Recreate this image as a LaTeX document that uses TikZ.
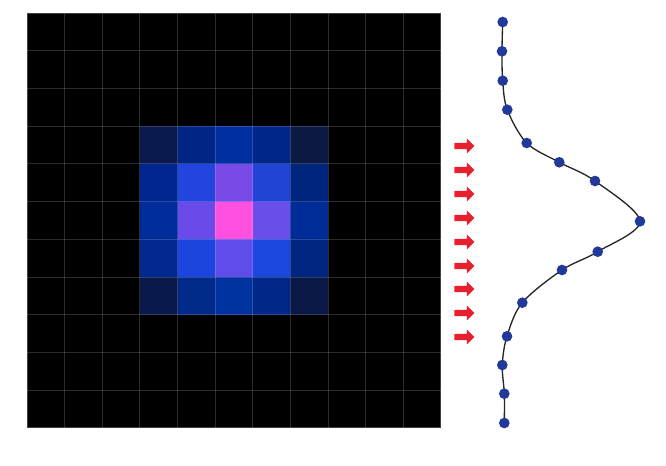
\documentclass[tikz,border=0pt]{standalone}
\usetikzlibrary{shapes.arrows}
\definecolor{dotblue}{HTML}{22399A}
\definecolor{arrowred}{HTML}{E8202E}
\tikzset{
  pix/.style={fill=#1,draw=none},
  sample/.style={circle,fill=dotblue,inner sep=0pt,minimum size=8pt},
  push/.style={single arrow,fill=arrowred,draw=none,minimum height=15pt,minimum width=10.5pt,
    single arrow head extend=3.2pt,single arrow head indent=0pt,inner sep=2.1pt,anchor=west}
}
\begin{document}
\begin{tikzpicture}[x=0.75pt,y=-0.75pt]
  \useasboundingbox (0,0) rectangle (666,466);
  % dark image
  \fill[black] (27,13) rectangle (441,428);
  % bright spot, rows 3..7, columns 3..7
  \foreach \r/\row in {3/{0A1A4E,002585,002F9F,00268A,0B1944},
                       4/{00268F,2344DD,7A4AE6,2244D6,00257F},
                       5/{002C9C,6B4AEA,FF50E0,6A4EE9,002C98},
                       6/{00288E,1B45DD,5F4CE9,1A48DC,00267F},
                       7/{091949,002A87,0032A0,002888,0A1845}}{
    \foreach \c [count=\k from 3] in \row {
      \definecolor{cell}{HTML}{\c}
      \fill[cell] (27+\k*37.64,13+\r*37.73) rectangle ++(37.64,37.73);
    }
  }
  % pixel grid
  \foreach \i in {1,...,10}{
    \draw[white,opacity=0.17,line width=0.8pt] (27+\i*37.64,13) -- (27+\i*37.64,428);
    \draw[white,opacity=0.17,line width=0.8pt] (27,13+\i*37.73) -- (441,13+\i*37.73);
  }
  \draw[white,opacity=0.25,line width=0.8pt] (27,13) rectangle (441,428);
  % incoming arrows
  \foreach \y [count=\n] in {146,170,194,218,242,266,289,313,337}{
    \node[push] (a\n) at (454,\y) {};
  }
  % sampled profile
  \foreach \x/\y [count=\n] in {502.7/22,502/51.3,502.7/80.7,507.3/109.7,526.7/143,559.3/162.3,
      595/181,640/221.3,597.7/251.7,562/270,522.3/302.7,507/336.3,502.3/365,504.3/393.7,504.3/423}{
    \coordinate (q\n) at (\x,\y);
  }
  \draw[black!85,line width=1pt] plot[smooth,tension=0.55] coordinates {(q1) (q2) (q3) (q4) (q5) (q6) (q7)
      (q8) (q9) (q10) (q11) (q12) (q13) (q14) (q15)};
  \foreach \n in {1,...,15}{
    \node[sample] (p\n) at (q\n) {};
  }
\end{tikzpicture}
\end{document}
